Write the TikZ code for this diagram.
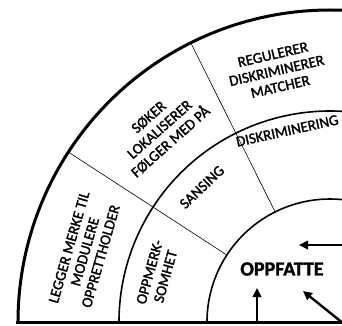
\documentclass[tikz,border=0pt]{standalone}
\usepackage{fontspec}
\setmainfont{Carlito}[FakeBold=1.6]
\usetikzlibrary{arrows.meta, positioning}

\tikzset{
    ringlbl/.style={align=center, inner sep=0pt, font=\fontsize{15}{16.5}\selectfont},
    corelbl/.style={inner sep=0pt, font=\bfseries\fontsize{20}{22}\selectfont},
    divider/.style={line width=0.6pt},
    feed/.style={line width=2.4pt, -{Triangle[length=9pt,width=8.5pt]}}
}

\begin{document}
\begin{tikzpicture}[x=1pt,y=1pt]
    \useasboundingbox (-330,-3) rectangle (12,322);
    \clip (-330,-3) rectangle (12,322);
    % Rings of the quarter disc
    \draw[line width=3pt] (180:312) arc[start angle=180, end angle=80, radius=312pt];
    \draw[line width=1.6pt] (180:211) arc[start angle=180, end angle=80, radius=211pt];
    \draw[line width=1.6pt] (180:123) arc[start angle=180, end angle=80, radius=123pt];
    \draw[line width=3pt] (-313.5,0) -- (14,0);
    % Sector borders
    \draw[divider] (116.5:123) -- (116.5:312);
    \draw[divider] (147:123) -- (147:312);
    % Outer ring
    \node[ringlbl, rotate=13] (regulerer) at (102:257) {REGULERER\\DISKRIMINERER\\MATCHER};
    \node[ringlbl, rotate=41.5] (soker) at (131.5:257) {SØKER\\LOKALISERER\\FØLGER MED PÅ};
    \node[ringlbl, rotate=74] (legger) at (164:255) {LEGGER MERKE TIL\\MODULERE\\OPPRETTHOLDER};
    % Middle ring
    \node[ringlbl, rotate=12.5] (diskr) at (102.6:196) {DISKRIMINERING};
    \node[ringlbl, rotate=43.5] (sansing) at (133.5:186) {SANSING};
    \node[ringlbl, rotate=74.5] (oppmerk) at (164.5:179) {OPPMERK-\\SOMHET};
    % Core
    \node[corelbl] (oppfatte) at (-48,53) {OPPFATTE};
    \coordinate (inA) at (14,77);
    \coordinate (tipA) at (-31,77);
    \coordinate (inB) at (-73,-2);
    \coordinate (tipB) at (-73,34);
    \coordinate (inC) at (14,-2);
    \coordinate (tipC) at (-27,31);
    \draw[feed] (inA) -- (tipA);
    \draw[feed] (inB) -- (tipB);
    \draw[feed] (inC) -- (tipC);
\end{tikzpicture}
\end{document}
